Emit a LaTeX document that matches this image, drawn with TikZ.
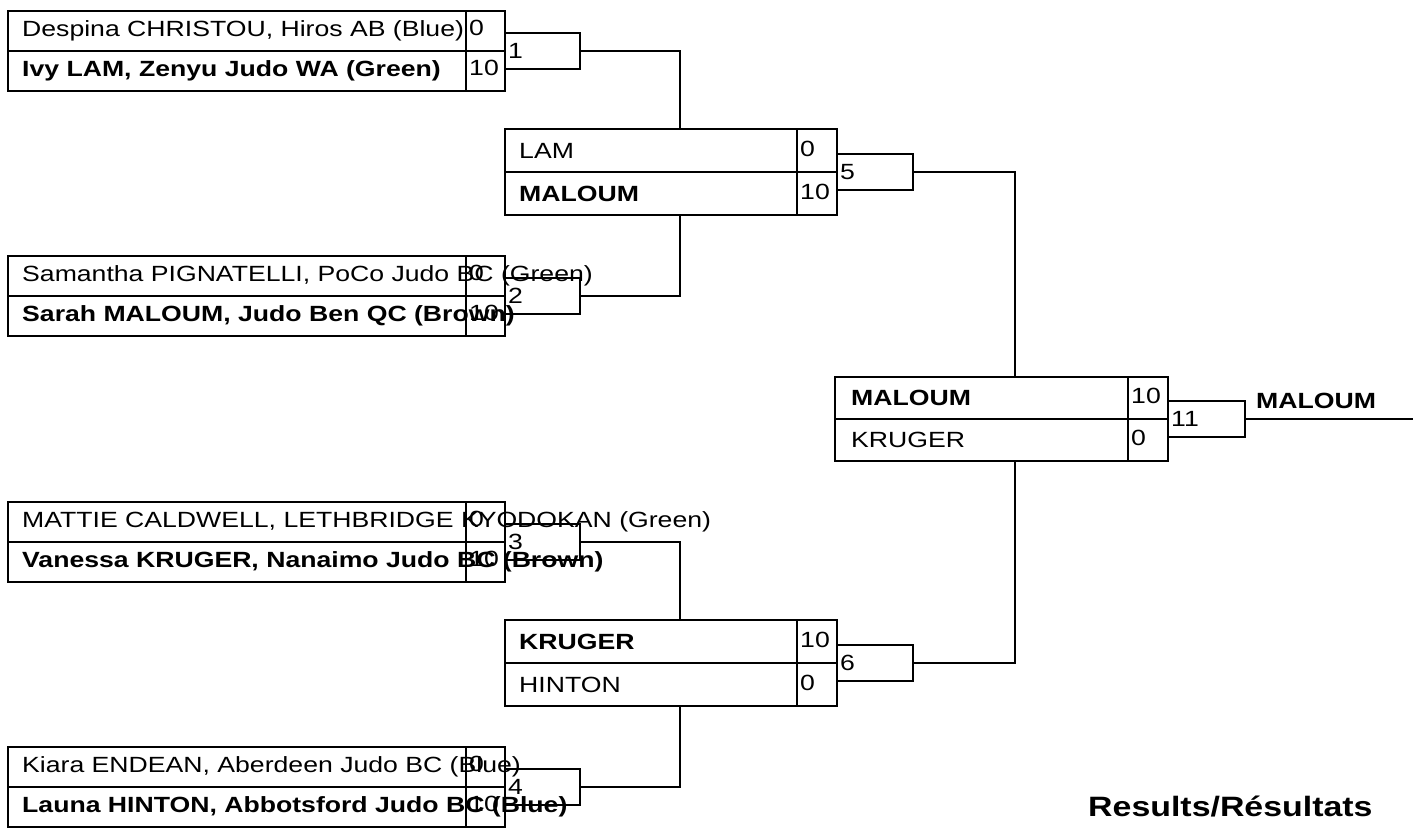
\documentclass[tikz,border=0pt]{standalone}
\usepackage{fontspec}
\setmainfont{Liberation Sans}[FakeStretch=1.21]
\begin{document}
\begin{tikzpicture}[x=1pt,y=-1pt,
  cell/.style={draw, line width=1.3pt, inner sep=0pt, outer sep=0pt, anchor=north west},
  numbox/.style={draw, line width=1.3pt, inner sep=0pt, outer sep=0pt, anchor=west, minimum height=36pt},
  txt/.style={anchor=west, inner sep=0pt, font=\fontsize{22}{25}\selectfont},
  bf/.style={anchor=west, inner sep=0pt, font=\fontsize{22}{25}\selectfont\bfseries},
  link/.style={draw, line width=1.3pt},
]
\useasboundingbox (0,0) rectangle (1413,828);

% ---------- Round 1 ----------
% match 1
\node[cell, minimum width=458pt, minimum height=40pt] (a1) at (8,11) {};
\node[cell, minimum width=458pt, minimum height=40pt] (a2) at (a1.south west) {};
\node[cell, minimum width=39pt, minimum height=40pt] (as1) at (a1.north east) {};
\node[cell, minimum width=39pt, minimum height=40pt] (as2) at (a2.north east) {};
\node[numbox, minimum width=75pt] (an) at (as1.south east) {};
\node[txt] (at1) at ([xshift=14pt]a1.west) {Despina CHRISTOU, Hiros AB (Blue)};
\node[bf] (at2) at ([xshift=14pt]a2.west) {Ivy LAM, Zenyu Judo WA (Green)};
\node[txt] (ac1) at ([xshift=3pt,yshift=3pt]as1.west) {0};
\node[txt] (ac2) at ([xshift=3pt,yshift=3pt]as2.west) {10};
\node[txt] (anl) at ([xshift=3pt]an.west) {1};

% match 2
\node[cell, minimum width=458pt, minimum height=40pt] (b1) at (8,256) {};
\node[cell, minimum width=458pt, minimum height=40pt] (b2) at (b1.south west) {};
\node[cell, minimum width=39pt, minimum height=40pt] (bs1) at (b1.north east) {};
\node[cell, minimum width=39pt, minimum height=40pt] (bs2) at (b2.north east) {};
\node[numbox, minimum width=75pt] (bn) at (bs1.south east) {};
\node[txt] (bt1) at ([xshift=14pt]b1.west) {Samantha PIGNATELLI, PoCo Judo BC (Green)};
\node[bf] (bt2) at ([xshift=14pt]b2.west) {Sarah MALOUM, Judo Ben QC (Brown)};
\node[txt] (bc1) at ([xshift=3pt,yshift=3pt]bs1.west) {0};
\node[txt] (bc2) at ([xshift=3pt,yshift=3pt]bs2.west) {10};
\node[txt] (bnl) at ([xshift=3pt]bn.west) {2};

% match 3
\node[cell, minimum width=458pt, minimum height=40pt] (c1) at (8,502) {};
\node[cell, minimum width=458pt, minimum height=40pt] (c2) at (c1.south west) {};
\node[cell, minimum width=39pt, minimum height=40pt] (cs1) at (c1.north east) {};
\node[cell, minimum width=39pt, minimum height=40pt] (cs2) at (c2.north east) {};
\node[numbox, minimum width=75pt] (cn) at (cs1.south east) {};
\node[txt] (ct1) at ([xshift=14pt]c1.west) {MATTIE CALDWELL, LETHBRIDGE KYODOKAN (Green)};
\node[bf] (ct2) at ([xshift=14pt]c2.west) {Vanessa KRUGER, Nanaimo Judo BC (Brown)};
\node[txt] (cc1) at ([xshift=3pt,yshift=3pt]cs1.west) {0};
\node[txt] (cc2) at ([xshift=3pt,yshift=3pt]cs2.west) {10};
\node[txt] (cnl) at ([xshift=3pt]cn.west) {3};

% match 4
\node[cell, minimum width=458pt, minimum height=40pt] (d1) at (8,747) {};
\node[cell, minimum width=458pt, minimum height=40pt] (d2) at (d1.south west) {};
\node[cell, minimum width=39pt, minimum height=40pt] (ds1) at (d1.north east) {};
\node[cell, minimum width=39pt, minimum height=40pt] (ds2) at (d2.north east) {};
\node[numbox, minimum width=75pt] (dn) at (ds1.south east) {};
\node[txt] (dt1) at ([xshift=14pt]d1.west) {Kiara ENDEAN, Aberdeen Judo BC (Blue)};
\node[bf] (dt2) at ([xshift=14pt]d2.west) {Launa HINTON, Abbotsford Judo BC (Blue)};
\node[txt] (dc1) at ([xshift=3pt,yshift=3pt]ds1.west) {0};
\node[txt] (dc2) at ([xshift=3pt,yshift=3pt]ds2.west) {10};
\node[txt] (dnl) at ([xshift=3pt]dn.west) {4};

% ---------- Round 2 ----------
% match 5
\node[cell, minimum width=292pt, minimum height=43pt] (e1) at (505,129) {};
\node[cell, minimum width=292pt, minimum height=43pt] (e2) at (e1.south west) {};
\node[cell, minimum width=40pt, minimum height=43pt] (es1) at (e1.north east) {};
\node[cell, minimum width=40pt, minimum height=43pt] (es2) at (e2.north east) {};
\node[numbox, minimum width=76pt] (en) at (es1.south east) {};
\node[txt] (et1) at ([xshift=14pt]e1.west) {LAM};
\node[bf] (et2) at ([xshift=14pt]e2.west) {MALOUM};
\node[txt] (ec1) at ([xshift=3pt,yshift=2pt]es1.west) {0};
\node[txt] (ec2) at ([xshift=3pt,yshift=2pt]es2.west) {10};
\node[txt] (enl) at ([xshift=3pt]en.west) {5};

% match 6
\node[cell, minimum width=292pt, minimum height=43pt] (g1) at (505,620) {};
\node[cell, minimum width=292pt, minimum height=43pt] (g2) at (g1.south west) {};
\node[cell, minimum width=40pt, minimum height=43pt] (gs1) at (g1.north east) {};
\node[cell, minimum width=40pt, minimum height=43pt] (gs2) at (g2.north east) {};
\node[numbox, minimum width=76pt] (gn) at (gs1.south east) {};
\node[bf] (gt1) at ([xshift=14pt]g1.west) {KRUGER};
\node[txt] (gt2) at ([xshift=14pt]g2.west) {HINTON};
\node[txt] (gc1) at ([xshift=3pt,yshift=2pt]gs1.west) {10};
\node[txt] (gc2) at ([xshift=3pt,yshift=2pt]gs2.west) {0};
\node[txt] (gnl) at ([xshift=3pt]gn.west) {6};

% ---------- Final ----------
\node[cell, minimum width=293pt, minimum height=42pt] (f1) at (835,377) {};
\node[cell, minimum width=293pt, minimum height=42pt] (f2) at (f1.south west) {};
\node[cell, minimum width=40pt, minimum height=42pt] (fs1) at (f1.north east) {};
\node[cell, minimum width=40pt, minimum height=42pt] (fs2) at (f2.north east) {};
\node[numbox, minimum width=77pt] (fn) at (fs1.south east) {};
\node[bf] (ft1) at ([xshift=16pt]f1.west) {MALOUM};
\node[txt] (ft2) at ([xshift=16pt]f2.west) {KRUGER};
\node[txt] (fc1) at ([xshift=3pt,yshift=2pt]fs1.west) {10};
\node[txt] (fc2) at ([xshift=3pt,yshift=2pt]fs2.west) {0};
\node[txt] (fnl) at ([xshift=3pt]fn.west) {11};

\node[bf] (win) at (1256,401) {MALOUM};
\coordinate (wend) at (1413,419);
\node[anchor=west, inner sep=0pt, font=\fontsize{28}{31}\selectfont\bfseries] (res) at (1088,806) {Results/Résultats};

% ---------- Connectors ----------
\draw[link] (an.east) -| ([xshift=29pt]e1.north);
\draw[link] (bn.east) -| ([xshift=29pt]e2.south);
\draw[link] (cn.east) -| ([xshift=29pt]g1.north);
\draw[link] (dn.east) -| ([xshift=29pt]g2.south);
\draw[link] (en.east) -| ([xshift=33.5pt]f1.north);
\draw[link] (gn.east) -| ([xshift=33.5pt]f2.south);
\draw[line width=2.4pt] (fn.east) -- (fn.east -| wend);
\end{tikzpicture}
\end{document}
